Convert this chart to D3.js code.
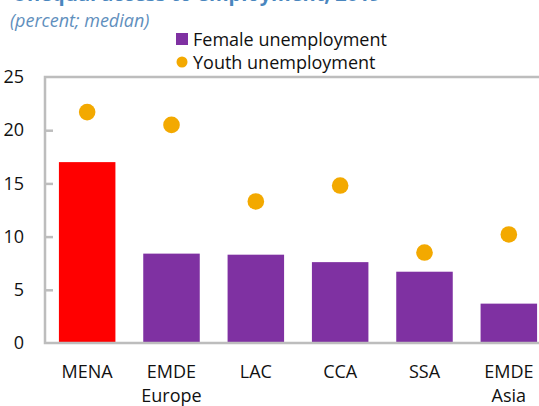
<!DOCTYPE html>
<html><head><meta charset="utf-8">
<script src="https://cdn.jsdelivr.net/npm/d3@7"></script>
<style>
body{margin:0;background:#fff;}
svg{display:block;font-family:"Open Sans",sans-serif;}
</style></head>
<body>
<svg id="chart" width="539" height="406"></svg>
<script>
const categories = [["MENA"],["EMDE","Europe"],["LAC"],["CCA"],["SSA"],["EMDE","Asia"]];
const femaleUnemployment = [17.0, 8.4, 8.3, 7.6, 6.7, 3.7];
const youthUnemployment = [21.7, 20.5, 13.3, 14.8, 8.5, 10.2];
const yTicks = [0,5,10,15,20,25];
const titleText = "Unequal access to employment, 2019";
const subtitleText = "(percent; median)";
const legendLabels = ["Female unemployment","Youth unemployment"];

const svg = d3.select("#chart");
const m = {left:45, right:-12, top:77, bottom:63};
const W = 539, H = 406;
const keys = categories.map(c=>c.join(" "));
const x = d3.scaleBand().domain(keys).range([m.left, W - m.right]).paddingInner(0.33).paddingOuter(0.165);
const y = d3.scaleLinear().domain([0,25]).range([H - m.bottom, m.top]);

// title (cut off at top)
svg.append("text").attr("x",12).attr("y",1).attr("font-size",20).attr("font-weight","bold")
  .attr("fill","#4a86be").text(titleText);
svg.append("text").attr("x",10).attr("y",27).attr("font-size",18).attr("font-style","italic")
  .attr("fill","#5f8fbd").text(subtitleText);

// bars
svg.append("g").selectAll("rect").data(femaleUnemployment).join("rect")
  .attr("x",(d,i)=>x(keys[i])).attr("width",x.bandwidth())
  .attr("y",d=>y(d)).attr("height",d=>y(0)-y(d))
  .attr("fill",(d,i)=>i===0?"#ff0000":"#7f31a2");

// dots
svg.append("g").selectAll("circle").data(youthUnemployment).join("circle")
  .attr("cx",(d,i)=>x(keys[i])+x.bandwidth()/2).attr("cy",d=>y(d)).attr("r",8.3)
  .attr("fill","#f3a900");

// frame
const frame = svg.append("g").attr("fill","none").attr("stroke","#bdbdbd").attr("stroke-width",2.5);
frame.append("path").attr("d",`M${W+5},${y(25)}H${m.left}V${y(0)}H${W+5}`);

// y axis
const yAxis = d3.axisLeft(y).tickValues(yTicks).tickSize(-8).tickPadding(21);
const ga = svg.append("g").attr("transform",`translate(${m.left},0)`).call(yAxis);
ga.select(".domain").remove();
ga.selectAll(".tick line").attr("stroke","#bdbdbd").attr("stroke-width",2.5)
  .filter(d=>d===0||d===25).remove();
ga.selectAll(".tick text").attr("font-size",18).attr("fill","#111").attr("font-family","'Open Sans',sans-serif");

// x labels
const xl = svg.append("g").attr("font-size",18).attr("fill","#111").attr("text-anchor","middle");
categories.forEach((c,i)=>{
  const t = xl.append("text").attr("x",x(keys[i])+x.bandwidth()/2).attr("y",378);
  c.forEach((s,j)=>t.append("tspan").attr("x",x(keys[i])+x.bandwidth()/2).attr("dy",j?24:0).text(s));
});

// legend
const lg = svg.append("g").attr("font-size",18).attr("fill","#111");
lg.append("rect").attr("x",176).attr("y",33).attr("width",12).attr("height",12).attr("fill","#7f31a2");
lg.append("text").attr("x",193).attr("y",46).text(legendLabels[0]);
lg.append("circle").attr("cx",182).attr("cy",62).attr("r",5.5).attr("fill","#f3a900");
lg.append("text").attr("x",193).attr("y",69).text(legendLabels[1]);
</script>
</body></html>
